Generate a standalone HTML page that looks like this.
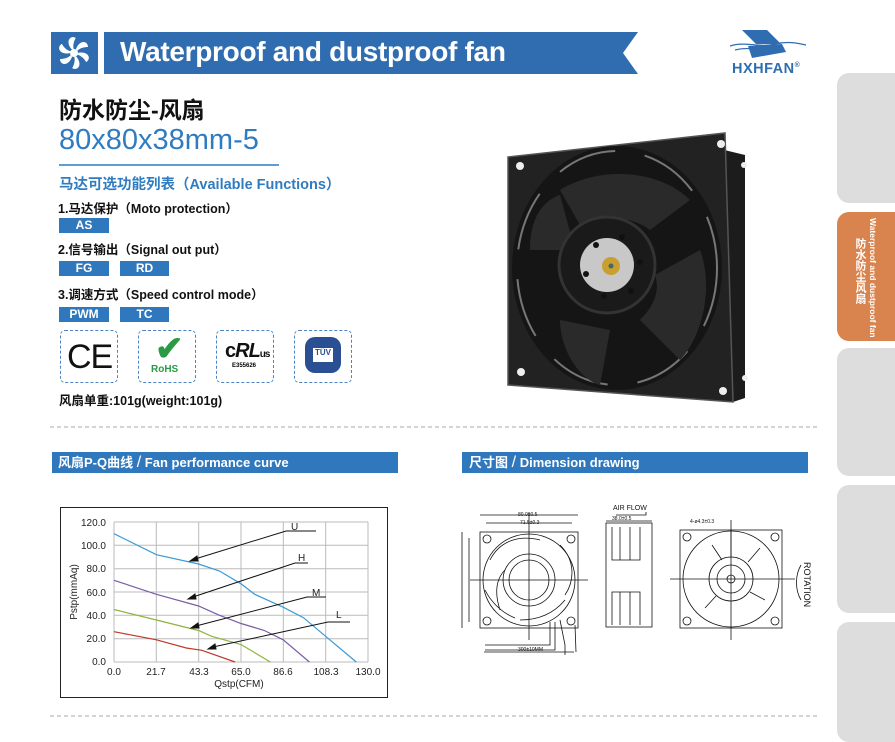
<!DOCTYPE html>
<html><head><meta charset="utf-8"><style>
*{margin:0;padding:0;box-sizing:border-box}
body{width:895px;height:731px;background:#fff;position:relative;overflow:hidden;font-family:"Liberation Sans","Noto Sans CJK SC",sans-serif}
.a{position:absolute;white-space:nowrap}
.badge{position:absolute;background:#2f78bd;color:#fff;font-size:12px;font-weight:bold;text-align:center;line-height:15px;height:15px;width:50px}
.cert{position:absolute;width:58px;height:53px;border:1.5px dashed #4b83c4;border-radius:5px;top:330px}
.tab{position:absolute;left:837px;width:60px;background:#dddddd;border-radius:12px 0 0 12px}
.sec{position:absolute;height:21px;top:452px;background:#2f78bd;color:#fff;font-size:13px;font-weight:bold;line-height:21px}
</style></head><body>
<svg class="a" style="left:0;top:0" width="895" height="731">
<rect x="51" y="32" width="47" height="42" fill="#2f6db0"/>
<g transform="translate(74,53)" fill="#fff">
<circle r="4"/>
<g id="bl"><path d="M2,-4 C6,-14 14,-12 14,-6 C10,-6 6,-5 3,-2Z"/></g>
<use href="#bl" transform="rotate(60)"/><use href="#bl" transform="rotate(120)"/><use href="#bl" transform="rotate(180)"/><use href="#bl" transform="rotate(240)"/><use href="#bl" transform="rotate(300)"/>
</g>
<polygon points="104,32 638,32 623,53 638,74 104,74" fill="#2f6db0"/>
<line x1="59" y1="165" x2="279" y2="165" stroke="#2f7cc0" stroke-width="1.5"/>
<line x1="50" y1="427" x2="820" y2="427" stroke="#aaa" stroke-dasharray="4,3"/>
<line x1="50" y1="716" x2="820" y2="716" stroke="#aaa" stroke-dasharray="4,3"/>
<!-- logo -->
<g fill="#2f6db0">
<polygon points="742,30 767,30 781,44 756,44"/>
<polygon points="748,46 782,44 786,52 752,58"/>
<path d="M730,46 C745,41 760,48 775,44 C787,41 797,43 806,45" stroke="#2f6db0" stroke-width="1.2" fill="none"/>
<path d="M735,50 C750,46 765,52 782,48" stroke="#2f6db0" stroke-width="1.2" fill="none"/>
</g>
<!-- fan photo -->
<polygon points="716,148 745,155 745,398 733,402" fill="#1c1c1c"/>
<polygon points="508,157 725,133 733,402 508,385" fill="#222"/>
<polygon points="508,157 725,133 733,402 508,385" fill="none" stroke="#555" stroke-width="1.5"/>
<ellipse cx="617" cy="268" rx="105" ry="122" fill="#151515"/>
<ellipse cx="617" cy="268" rx="100" ry="117" fill="none" stroke="#777" stroke-width="2" stroke-dasharray="60,30"/>
<path d="M560,190 C600,165 660,170 690,200 L650,230 C630,215 600,215 580,225Z" fill="#2a2a2a"/>
<path d="M700,250 C715,290 700,340 680,360 L640,320 C655,305 660,290 655,275Z" fill="#2a2a2a"/>
<path d="M560,320 C560,350 580,380 600,385 L610,330Z" fill="#2a2a2a"/>
<path d="M530,250 C530,215 545,200 560,195 L575,250Z" fill="#2a2a2a"/>
<circle cx="607" cy="265" r="48" fill="#1a1a1a" stroke="#333" stroke-width="3"/>
<circle cx="607" cy="265" r="27" fill="#c8c8c8"/>
<circle cx="611" cy="266" r="9" fill="#c9a030"/>
<circle cx="611" cy="266" r="2.5" fill="#466"/>
<g fill="#111"><circle cx="596" cy="245" r="3"/><circle cx="622" cy="237" r="3"/><circle cx="640" cy="262" r="3"/><circle cx="631" cy="291" r="3"/><circle cx="604" cy="296" r="3"/><circle cx="586" cy="274" r="3"/></g>
<g fill="#eee"><circle cx="520" cy="166" r="4"/><circle cx="721" cy="144" r="4"/><circle cx="521" cy="372" r="4"/><circle cx="723" cy="391" r="4"/><circle cx="744" cy="165" r="3"/><circle cx="745" cy="378" r="3"/></g>
<!-- chart -->
<rect x="60.5" y="507.5" width="327" height="190" fill="#fff" stroke="#222"/>
<g stroke="#bbb" stroke-width="1">
<line x1="114" y1="522" x2="368" y2="522"/><line x1="114" y1="545.3" x2="368" y2="545.3"/><line x1="114" y1="568.7" x2="368" y2="568.7"/><line x1="114" y1="592" x2="368" y2="592"/><line x1="114" y1="615.3" x2="368" y2="615.3"/><line x1="114" y1="638.7" x2="368" y2="638.7"/><line x1="114" y1="662" x2="368" y2="662"/>
<line x1="114" y1="522" x2="114" y2="662"/><line x1="156.3" y1="522" x2="156.3" y2="662"/><line x1="198.7" y1="522" x2="198.7" y2="662"/><line x1="241" y1="522" x2="241" y2="662"/><line x1="283.3" y1="522" x2="283.3" y2="662"/><line x1="325.7" y1="522" x2="325.7" y2="662"/><line x1="368" y1="522" x2="368" y2="662"/>
</g>
<g fill="none" stroke-width="1.2">
<polyline stroke="#3a9ad8" points="114,533.7 156.4,554.7 198.6,564 219.5,571 241,583.8 254.7,594.3 283.2,607.2 303.5,617.7 325.6,636.3 356.3,662"/>
<polyline stroke="#7b5ca8" points="114,580.3 156.4,594.3 198.6,606 219.5,615.3 241,623.5 264.4,630.5 283.2,639.8 309.4,662"/>
<polyline stroke="#8db43c" points="114,609.5 156.4,620 198.6,630.5 211.7,636.3 241,644.5 270.3,662"/>
<polyline stroke="#c0392b" points="114,631.7 156.4,639.8 186.3,648 201.9,650.3 235.1,662"/>
</g>
<g stroke="#111" stroke-width="1" fill="#111">
<polyline fill="none" points="316,531 286,531 195,559"/><polygon points="190,561 197,556 198,561"/>
<polyline fill="none" points="308,563 295,563 193,597"/><polygon points="188,599 195,594 196,599"/>
<polyline fill="none" points="326,597 307,597 196,626"/><polygon points="191,628 198,623 199,628"/>
<polyline fill="none" points="350,622 328,622 213,647"/><polygon points="208,649 215,644 216,649"/>
</g>
<g font-size="10" fill="#222" font-family="Liberation Sans,sans-serif">
<text x="291" y="530">U</text><text x="298" y="561">H</text><text x="312" y="596">M</text><text x="336" y="618">L</text>
<g text-anchor="end"><text x="106" y="526">120.0</text><text x="106" y="549">100.0</text><text x="106" y="572">80.0</text><text x="106" y="596">60.0</text><text x="106" y="619">40.0</text><text x="106" y="642">20.0</text><text x="106" y="665">0.0</text></g>
<g text-anchor="middle"><text x="114" y="675">0.0</text><text x="156" y="675">21.7</text><text x="199" y="675">43.3</text><text x="241" y="675">65.0</text><text x="283" y="675">86.6</text><text x="326" y="675">108.3</text><text x="368" y="675">130.0</text><text x="239" y="687">Qstp(CFM)</text></g>
<text transform="translate(77,592) rotate(-90)" text-anchor="middle">Pstp(mmAq)</text>
</g>
<!-- dimension drawing -->
<g fill="none" stroke="#111" stroke-width="0.8">
<rect x="480" y="532" width="98" height="96"/>
<circle cx="529" cy="580" r="46"/><circle cx="529" cy="580" r="26"/><circle cx="529" cy="580" r="20"/>
<path d="M490,560 C500,540 520,535 540,540 M500,610 C495,595 495,580 505,570 M560,545 C575,560 575,580 565,595 M520,620 C540,620 555,612 565,600 M485,590 C490,600 500,612 515,618"/>
<circle cx="487" cy="539" r="4"/><circle cx="571" cy="539" r="4"/><circle cx="487" cy="621" r="4"/><circle cx="571" cy="621" r="4"/>
<line x1="470" y1="580" x2="588" y2="580"/><line x1="529" y1="512" x2="529" y2="640"/>
<line x1="480" y1="515" x2="578" y2="515"/><line x1="486" y1="523" x2="572" y2="523"/>
<line x1="462" y1="532" x2="462" y2="628"/><line x1="469" y1="538" x2="469" y2="622"/>
<path d="M560,620 L565,645 L565,655 M555,622 L555,650 L485,650 M550,622 L550,645 L485,645 M575,625 L576,652"/>
<line x1="484" y1="652" x2="574" y2="652"/>
<rect x="606" y="523" width="46" height="104"/>
<path d="M612,527 L612,560 L640,560 L640,527 M612,625 L612,592 L640,592 L640,625 M620,527 L620,560 M630,527 L630,560 M620,592 L620,625 M630,592 L630,625"/>
<line x1="606" y1="521" x2="652" y2="521"/><path d="M616,515 L646,515 L646,512"/>
<rect x="680" y="530" width="102" height="98"/>
<circle cx="731" cy="579" r="48"/><circle cx="731" cy="579" r="22"/><circle cx="731" cy="579" r="14"/><circle cx="731" cy="579" r="4"/>
<path d="M712,545 L722,560 M760,548 L748,562 M765,600 L750,592 M705,608 L716,596 M731,531 L731,557"/>
<circle cx="687" cy="537" r="4"/><circle cx="775" cy="537" r="4"/><circle cx="687" cy="621" r="4"/><circle cx="775" cy="621" r="4"/>
<line x1="670" y1="579" x2="795" y2="579"/><line x1="731" y1="520" x2="731" y2="640"/>
<path d="M801,565 C795,575 795,590 801,600"/>
</g>
<g font-size="5" fill="#111"><text x="518" y="516">80.0±0.5</text><text x="520" y="524">71.5±0.3</text><text x="612" y="520">38.0±0.5</text><text x="690" y="523">4-ø4.3±0.3</text><text x="518" y="651">300±10MM</text></g>
<text x="613" y="510" font-size="7" fill="#111">AIR FLOW</text>
<text transform="translate(804,562) rotate(90)" font-size="9" fill="#111">ROTATION</text>
</svg>
<div class="a" style="left:120px;top:36px;font-size:28px;color:#fff;font-weight:bold;letter-spacing:-0.3px">Waterproof and dustproof fan</div>
<div class="a" style="left:732px;top:61px;font-size:14.5px;color:#2f6db0;font-weight:bold;letter-spacing:0.5px">HXHFAN<sup style="font-size:7px">®</sup></div>
<div class="a" style="left:59px;top:91px;font-size:23px;font-weight:bold;color:#111">防水防尘-风扇</div>
<div class="a" style="left:59px;top:124px;font-size:29px;color:#2f7cc0">80x80x38mm-5</div>
<div class="a" style="left:59px;top:173px;font-size:14.5px;color:#2f7cc0;font-weight:bold">马达可选功能列表（Available Functions）</div>
<div class="a" style="left:58px;top:198px;font-size:12.5px;font-weight:bold;color:#111">1.马达保护（Moto protection）</div>
<div class="badge" style="left:59px;top:218px">AS</div>
<div class="a" style="left:58px;top:239px;font-size:12.5px;font-weight:bold;color:#111">2.信号输出（Signal out put）</div>
<div class="badge" style="left:59px;top:261px">FG</div><div class="badge" style="left:120px;top:261px;width:49px">RD</div>
<div class="a" style="left:58px;top:284px;font-size:12.5px;font-weight:bold;color:#111">3.调速方式（Speed control mode）</div>
<div class="badge" style="left:59px;top:307px">PWM</div><div class="badge" style="left:120px;top:307px;width:49px">TC</div>
<div class="cert" style="left:60px"><div class="a" style="left:6px;top:7px;font-size:34px;color:#111;letter-spacing:-1px">CE</div></div>
<div class="cert" style="left:138px"><div class="a" style="left:16px;top:-2px;font-size:34px;color:#2a9a45;font-weight:bold">✔</div><div class="a" style="left:12px;top:33px;font-size:10px;color:#2a9a45;font-weight:bold">RoHS</div></div>
<div class="cert" style="left:216px"><div class="a" style="left:8px;top:9px;font-size:20px;font-weight:bold;color:#111;letter-spacing:-1px">c<span style="font-style:italic">RL</span><span style="font-size:10px">us</span></div><div class="a" style="left:15px;top:32px;font-size:6px;font-weight:bold">E355626</div></div>
<div class="cert" style="left:294px"><div class="a" style="left:10px;top:6px;width:36px;height:36px;border-radius:10px;background:#2a4f92"></div><div class="a" style="left:18px;top:17px;width:20px;height:14px;background:#fff;font-size:8px;font-weight:bold;text-align:center;color:#2a4f92">TÜV</div></div>
<div class="a" style="left:59px;top:390px;font-size:12.5px;font-weight:bold;color:#111">风扇单重:101g(weight:101g)</div>
<div class="sec" style="left:52px;width:346px;padding-left:6px">风扇P-Q曲线 <span style="font-weight:normal;font-size:16px">/</span> Fan performance curve</div>
<div class="sec" style="left:462px;width:346px;padding-left:7px">尺寸图 <span style="font-weight:normal;font-size:16px">/</span> Dimension drawing</div>
<div class="tab" style="top:73px;height:130px"></div>
<div class="tab" style="top:212px;height:129px;background:#d9834e"></div>
<div class="a" style="left:868px;top:218px;writing-mode:vertical-rl;font-size:8.5px;color:#fff;font-weight:bold">Waterproof and dustproof fan</div>
<div class="a" style="left:852px;top:238px;writing-mode:vertical-rl;font-size:11px;color:#fff;font-weight:bold">防水防尘风扇</div>
<div class="tab" style="top:348px;height:128px"></div>
<div class="tab" style="top:485px;height:128px"></div>
<div class="tab" style="top:622px;height:120px"></div>
</body></html>
